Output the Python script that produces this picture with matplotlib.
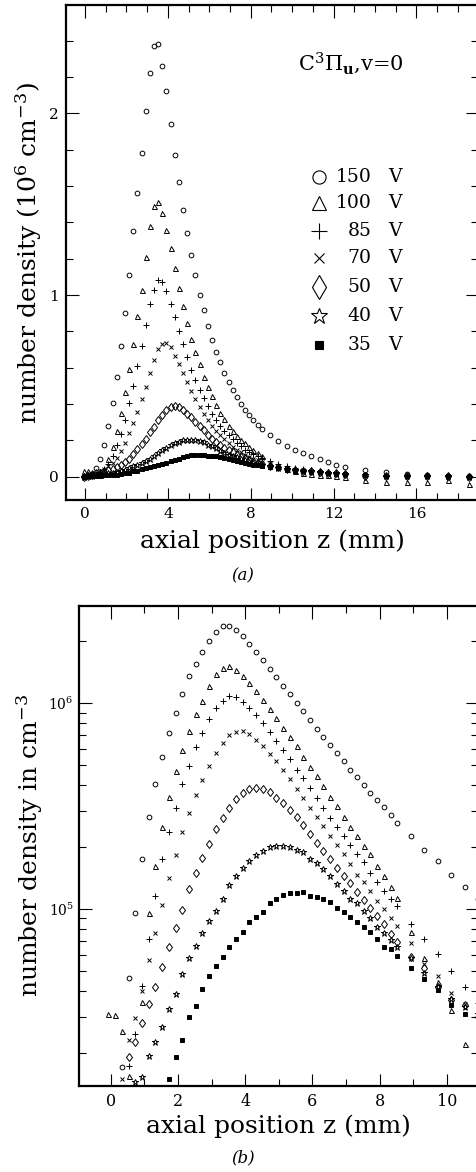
import numpy as np
import matplotlib
matplotlib.use('Agg')
import matplotlib.pyplot as plt
from matplotlib.ticker import MultipleLocator, LogLocator, NullFormatter, LogFormatterMathtext

plt.rcParams['font.family'] = ['DejaVu Serif']
plt.rcParams['mathtext.fontset'] = 'dejavuserif'

# axial positions (mm)
z_mm = [-0.07, 0.13, 0.33, 0.53, 0.73, 0.93, 1.13, 1.33, 1.53, 1.73, 1.93, 2.13, 2.33, 2.53,
        2.73, 2.93, 3.13, 3.33, 3.53, 3.73, 3.93, 4.13, 4.33, 4.53, 4.73, 4.93, 5.13, 5.33,
        5.53, 5.73, 5.93, 6.13, 6.33, 6.53, 6.73, 6.93, 7.13, 7.33, 7.53, 7.73, 7.93, 8.13,
        8.33, 8.53, 8.93, 9.33, 9.73, 10.13, 10.53, 10.93, 11.33, 11.73, 12.13, 12.53,
        13.53, 14.53, 15.53, 16.53, 17.53, 18.53]

# number densities in 10^6 cm^-3
n150 = [0.003, 0.008, 0.017, 0.046, 0.096, 0.175, 0.281, 0.404, 0.548, 0.718, 0.900, 1.11,
        1.35, 1.56, 1.78, 2.01, 2.22, 2.37, 2.38, 2.26, 2.12, 1.94, 1.77, 1.62, 1.47, 1.34,
        1.22, 1.11, 1.00, 0.917, 0.832, 0.753, 0.686, 0.629, 0.571, 0.522, 0.476, 0.440,
        0.399, 0.366, 0.338, 0.312, 0.287, 0.263, 0.227, 0.194, 0.171, 0.147, 0.128, 0.112,
        0.095, 0.082, 0.065, 0.055, 0.036, 0.024, 0.014, 0.009, 0.005, 0.003]
n100 = [0.0308, 0.0305, 0.0256, 0.0154, 0.012, 0.0354, 0.096, 0.162, 0.251, 0.351, 0.469,
        0.593, 0.731, 0.883, 1.03, 1.21, 1.38, 1.49, 1.51, 1.45, 1.36, 1.26, 1.15, 1.04,
        0.940, 0.845, 0.759, 0.686, 0.620, 0.550, 0.492, 0.442, 0.396, 0.350, 0.317, 0.281,
        0.251, 0.226, 0.203, 0.185, 0.162, 0.145, 0.128, 0.113, 0.0776, 0.0575, 0.0444,
        0.0323, 0.0222, 0.017, 0.012, 0.007, 0.003, 0.000, -0.018, -0.028, -0.031, -0.028,
        -0.018, -0.040]
n85 = [0.002, 0.005, 0.010, 0.0173, 0.0248, 0.0424, 0.0713, 0.116, 0.175, 0.237, 0.310,
       0.404, 0.498, 0.610, 0.720, 0.836, 0.949, 1.03, 1.08, 1.07, 1.02, 0.953, 0.878, 0.802,
       0.728, 0.658, 0.590, 0.534, 0.475, 0.431, 0.388, 0.345, 0.311, 0.278, 0.250, 0.227,
       0.205, 0.185, 0.169, 0.149, 0.136, 0.123, 0.112, 0.103, 0.0846, 0.0713, 0.0604,
       0.0501, 0.0416, 0.035, 0.030, 0.025, 0.020, 0.016, 0.008, 0.005, 0.004, 0.003,
       0.002, 0.002]
n70 = [0.002, 0.005, 0.015, 0.0231, 0.0297, 0.0401, 0.0565, 0.0762, 0.105, 0.141, 0.183,
       0.238, 0.293, 0.358, 0.426, 0.496, 0.573, 0.644, 0.702, 0.728, 0.736, 0.712, 0.663,
       0.620, 0.569, 0.522, 0.472, 0.427, 0.383, 0.345, 0.310, 0.280, 0.252, 0.227, 0.205,
       0.185, 0.165, 0.147, 0.136, 0.122, 0.110, 0.0996, 0.0907, 0.0824, 0.0681, 0.054,
       0.0472, 0.0389, 0.0345, 0.031, 0.027, 0.022, 0.018, 0.014, 0.007, 0.004, 0.003,
       0.002, 0.001, 0.001]
n50 = [0.001, 0.003, 0.008, 0.0191, 0.0226, 0.028, 0.0345, 0.0416, 0.052, 0.0651, 0.0805,
       0.0989, 0.125, 0.150, 0.178, 0.207, 0.245, 0.276, 0.311, 0.341, 0.368, 0.385, 0.389,
       0.385, 0.370, 0.348, 0.327, 0.303, 0.280, 0.256, 0.231, 0.210, 0.192, 0.176, 0.159,
       0.145, 0.134, 0.121, 0.111, 0.101, 0.0925, 0.0846, 0.0756, 0.0693, 0.0582, 0.0515,
       0.0419, 0.0361, 0.0341, 0.030, 0.027, 0.022, 0.018, 0.014, 0.006, 0.004, 0.003,
       0.002, 0.002, 0.001]
n40 = [0.001, 0.002, 0.005, 0.009, 0.0145, 0.0153, 0.0193, 0.0225, 0.0268, 0.0325, 0.0386,
       0.0486, 0.0575, 0.0663, 0.0762, 0.0875, 0.0978, 0.112, 0.131, 0.145, 0.159, 0.172,
       0.183, 0.192, 0.201, 0.203, 0.203, 0.201, 0.194, 0.189, 0.176, 0.168, 0.156, 0.144,
       0.133, 0.122, 0.112, 0.107, 0.098, 0.090, 0.0815, 0.0762, 0.0707, 0.0651, 0.0575,
       0.049, 0.0419, 0.0364, 0.0335, 0.031, 0.027, 0.023, 0.019, 0.015, 0.008, 0.005,
       0.004, 0.003, 0.002, 0.001]
n35 = [0.001, 0.002, 0.003, 0.004, 0.006, 0.007, 0.009, 0.0105, 0.012, 0.0149, 0.0191,
       0.0232, 0.030, 0.0339, 0.0408, 0.0474, 0.0528, 0.0582, 0.0653, 0.0714, 0.0776, 0.0861,
       0.091, 0.097, 0.107, 0.112, 0.117, 0.119, 0.119, 0.121, 0.116, 0.114, 0.112, 0.108,
       0.101, 0.0963, 0.091, 0.0861, 0.0815, 0.0776, 0.0714, 0.0656, 0.0639, 0.059, 0.0515,
       0.0455, 0.0404, 0.0341, 0.0308, 0.0283, 0.025, 0.021, 0.017, 0.014, 0.007, 0.005,
       0.004, 0.003, 0.002, 0.001]

voltage_labels = ['150', '100', '85', '70', '50', '40', '35']
series = [n150, n100, n85, n70, n50, n40, n35]

# marker styles: (marker, size, filled, legend size)
styles = [('o', 3.4, False, 9.5), ('^', 3.6, False, 9.5), ('+', 4.2, False, 11),
          ('x', 3.2, False, 7), ('d', 4.4, False, 12), ('*', 5.0, False, 12),
          ('s', 2.3, True, 5.5)]

W, H = 476, 1172
fig = plt.figure(figsize=(W / 100, H / 100), dpi=100)

def box(l, t, r, b):
    return [l / W, 1 - b / H, (r - l) / W, (b - t) / H]

ax1 = fig.add_axes(box(66, 5, 478, 500))
ax2 = fig.add_axes(box(79.3, 606, 478, 1086))

z = np.array(z_mm)
for vals, (mk, ms, filled, _) in zip(series, styles):
    v = np.array(vals)
    kw = dict(ls='none', marker=mk, ms=ms, mec='black', mew=0.7,
              mfc='black' if filled else 'none')
    ax1.plot(z, v, **kw)
    vv = v * 1e6
    ax2.plot(z, np.where(vv > 0, vv, np.nan), **kw)

# ---- panel (a)
ax1.set_xlim(-0.92, 18.97)
ax1.set_ylim(-0.128, 2.596)
ax1.xaxis.set_major_locator(MultipleLocator(4))
ax1.xaxis.set_minor_locator(MultipleLocator(1))
ax1.yaxis.set_major_locator(MultipleLocator(1))
ax1.yaxis.set_minor_locator(MultipleLocator(0.2))

# ---- panel (b)
ax2.set_yscale('log')
ax2.set_xlim(-0.935, 10.93)
ax2.set_ylim(1.38e4, 2.97e6)
ax2.xaxis.set_major_locator(MultipleLocator(2))
ax2.xaxis.set_minor_locator(MultipleLocator(1))
ax2.yaxis.set_major_locator(LogLocator(base=10))
ax2.yaxis.set_major_formatter(LogFormatterMathtext())
ax2.yaxis.set_minor_locator(LogLocator(base=10, subs=np.arange(2, 10)))
ax2.yaxis.set_minor_formatter(NullFormatter())

for ax in (ax1, ax2):
    for sp in ax.spines.values():
        sp.set_linewidth(1.6)
    ax.tick_params(which='both', direction='in', top=True, right=True, width=0.8)
    ax.tick_params(which='major', length=9)
    ax.tick_params(which='minor', length=5)

ax1.tick_params(axis='both', which='major', labelsize=11, pad=5)
ax2.tick_params(axis='x', which='major', labelsize=11.5, pad=5)
ax2.tick_params(axis='y', which='major', labelsize=10, pad=4)

lab_fs = 18
ax1.set_xlabel('axial position z (mm)', fontsize=lab_fs, va='center')
ax1.xaxis.set_label_coords(0.5, -0.084)
ax1.set_ylabel(r'number density (10$^6$ cm$^{-3}$)', fontsize=lab_fs, va='center')
ax1.yaxis.set_label_coords(-0.09, 0.5)

ax2.set_xlabel('axial position z (mm)', fontsize=lab_fs, va='center')
ax2.xaxis.set_label_coords(0.5, -0.084)
ax2.set_ylabel(r'number density in cm$^{-3}$', fontsize=lab_fs, va='center')
ax2.yaxis.set_label_coords(-0.125, 0.5)

ax1.text(0.691, 0.883, r'C$^3\Pi_{\mathbf{u}}$,v=0', transform=ax1.transAxes,
         ha='center', va='center', fontsize=15)

# legend (manual, to align numbers)
leg_y = [0.653, 0.600, 0.544, 0.488, 0.431, 0.372, 0.314]
for lab, (mk, ms, filled, lms), yy in zip(voltage_labels, styles, leg_y):
    ax1.plot([0.613], [yy], transform=ax1.transAxes, ls='none', marker=mk, ms=lms,
             mec='black', mew=0.8, mfc='black' if filled else 'none', clip_on=False)
    ax1.text(0.742, yy, lab, transform=ax1.transAxes, ha='right', va='center', fontsize=13.5)
    ax1.text(0.783, yy, 'V', transform=ax1.transAxes, ha='left', va='center', fontsize=13.5)

fig.text(243 / W, 1 - 576 / H, '(a)', ha='center', va='center', fontsize=12, style='italic')
fig.text(243 / W, 1 - 1158 / H, '(b)', ha='center', va='center', fontsize=12, style='italic')

fig.savefig('out.png', dpi=100)
